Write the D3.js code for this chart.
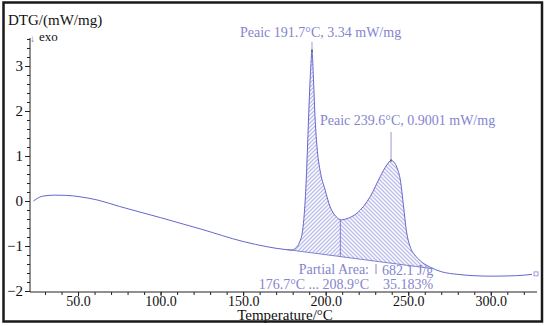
<!DOCTYPE html>
<html>
<head>
<meta charset="utf-8">
<script src="https://cdn.jsdelivr.net/npm/d3@7"></script>
<style>
  body { margin: 0; background: #fff; }
  svg { display: block; font-family: "Liberation Serif", "DejaVu Serif", serif; }
</style>
</head>
<body>
<div id="chart"></div>
<script>
// DTG curve (temperature in °C, DTG in mW/mg)
const temps = [23, 25, 27, 30, 36, 43, 50, 62, 75, 100, 125, 150, 165, 176, 179, 182, 184, 186, 187, 188, 189, 190, 191, 191.7,
  192.5, 193.5, 195, 196.5, 199.7, 202.7, 206.4, 209.5, 213, 219, 227, 233, 237, 239.6, 241.5, 243.2, 245.2, 247.2, 248.8,
  251.2, 254, 257.3, 263.3, 270, 280, 300, 315, 325];
const dtg = [0.0, 0.05, 0.09, 0.115, 0.13, 0.125, 0.1, 0.02, -0.12, -0.37, -0.63, -0.9, -1.02, -1.08, -1.09, -1.04, -0.93, -0.66, -0.3, 0.3,
  1.2, 2.2, 3.0, 3.34, 2.8, 1.9, 1.1, 0.7, 0.24, -0.13, -0.35, -0.42, -0.39, -0.27, 0.1, 0.54, 0.8, 0.9, 0.86, 0.74, 0.47, -0.13, -0.64,
  -1.02, -1.2, -1.33, -1.47, -1.57, -1.63, -1.67, -1.66, -1.63];

// integration baseline and partial split
const baseT = [176.7, 264];
const baseV = [-1.08, -1.5];
const splitT = 208.9;

const xTicks = [50, 100, 150, 200, 250, 300];
const yTicks = [-2, -1, 0, 1, 2, 3];

const peaks = [
  { t: 191.7, v: 3.34, label: "Peaic 191.7°C, 3.34 mW/mg", top: 42, lx: 240, ly: 37 },
  { t: 239.6, v: 0.9001, label: "Peaic 239.6°C, 0.9001 mW/mg", top: 132, lx: 320, ly: 125 }
];

const W = 546, H = 326;
const purple = "#6666cc";
const hatch = "#6e6ecc";
const textPurple = "#8484cf";

const svg = d3.select("#chart").append("svg").attr("width", W).attr("height", H);

const x = d3.scaleLinear().domain([20.9, 328]).range([30, 537]);
const y = d3.scaleLinear().domain([-2.022, 3.622]).range([292, 38]);

// hatch patterns, one per part of the area
const defs = svg.append("defs");
[["hatchA", "M-1,5 L5,-1"], ["hatchB", "M-1,-1 L5,5"]].forEach(([id, d]) => {
  const p = defs.append("pattern").attr("id", id).attr("patternUnits", "userSpaceOnUse")
    .attr("width", 4).attr("height", 4).attr("patternTransform", "translate(0.5,0.5)");
  [-4, 0, 4].forEach((dx) => {
    p.append("path").attr("d", d).attr("transform", `translate(${dx},0)`)
      .attr("stroke", hatch).attr("stroke-width", 0.9);
  });
});

defs.append("clipPath").attr("id", "clipA").append("rect")
  .attr("x", x(baseT[0])).attr("y", 0).attr("width", x(splitT) - x(baseT[0])).attr("height", H);
defs.append("clipPath").attr("id", "clipB").append("rect")
  .attr("x", x(splitT)).attr("y", 0).attr("width", x(baseT[1]) - x(splitT)).attr("height", H);

const data = temps.map((t, i) => ({ t: t, v: dtg[i] }));
const baseAt = d3.scaleLinear().domain(baseT).range(baseV);

const area = d3.area()
  .curve(d3.curveMonotoneX)
  .x((d) => x(d.t))
  .y0((d) => y(baseAt(d.t)))
  .y1((d) => y(d.v));

const inside = data.filter((d) => d.t >= 170 && d.t <= 270);
svg.append("path").datum(inside).attr("d", area)
  .attr("fill", "url(#hatchA)").attr("clip-path", "url(#clipA)");
svg.append("path").datum(inside).attr("d", area)
  .attr("fill", "url(#hatchB)").attr("clip-path", "url(#clipB)");

// baseline and split line
svg.append("line")
  .attr("x1", x(baseT[0])).attr("y1", y(baseV[0]))
  .attr("x2", x(baseT[1])).attr("y2", y(baseV[1]))
  .attr("stroke", purple).attr("stroke-width", 0.8);

const line = d3.line().curve(d3.curveMonotoneX).x((d) => x(d.t)).y((d) => y(d.v));

const curvePath = svg.append("path").datum(data).attr("d", line)
  .attr("fill", "none").attr("stroke", purple).attr("stroke-width", 1);

// y of the drawn curve at a given pixel x, found on the path itself
function curveYAt(px) {
  const node = curvePath.node();
  const len = node.getTotalLength();
  let lo = 0, hi = len;
  for (let k = 0; k < 40; k++) {
    const mid = (lo + hi) / 2;
    if (node.getPointAtLength(mid).x < px) lo = mid; else hi = mid;
  }
  return node.getPointAtLength(lo).y;
}
svg.append("line")
  .attr("x1", x(splitT)).attr("x2", x(splitT))
  .attr("y1", y(baseAt(splitT))).attr("y2", curveYAt(x(splitT)))
  .attr("stroke", purple).attr("stroke-width", 0.8);

// axes
svg.append("g").attr("transform", "translate(0,292)")
  .call(d3.axisBottom(x).tickValues(d3.range(30, 330, 10)).tickSize(3).tickFormat(""))
  .call((g) => g.select(".domain").remove())
  .selectAll("line").attr("stroke", "#222");
svg.append("g").attr("transform", "translate(0,292)")
  .call(d3.axisBottom(x).tickValues(xTicks).tickSize(4).tickFormat(d3.format(".1f")))
  .call((g) => g.select(".domain").remove())
  .call((g) => g.selectAll("line").attr("stroke", "#222"))
  .selectAll("text")
  .attr("font-family", "Liberation Serif").attr("font-size", 14).attr("fill", "#111")
  .attr("y", 4).attr("dy", "0.71em");

svg.append("g").attr("transform", "translate(30,0)")
  .call(d3.axisLeft(y).tickValues(d3.range(-2, 3.61, 0.2)).tickSize(3).tickFormat(""))
  .call((g) => g.select(".domain").remove())
  .selectAll("line").attr("stroke", "#222");
svg.append("g").attr("transform", "translate(30,0)")
  .call(d3.axisLeft(y).tickValues(yTicks).tickSize(5).tickFormat(d3.format("d")))
  .call((g) => g.select(".domain").remove())
  .call((g) => g.selectAll("line").attr("stroke", "#222"))
  .selectAll("text")
  .attr("font-family", "Liberation Serif").attr("font-size", 15).attr("fill", "#111").attr("x", -7);

svg.append("line").attr("x1", 30).attr("x2", 30).attr("y1", 38).attr("y2", 292)
  .attr("stroke", "#222").attr("stroke-width", 1);
svg.append("line").attr("x1", 30).attr("x2", 537).attr("y1", 292).attr("y2", 292)
  .attr("stroke", "#222").attr("stroke-width", 1);

// titles
svg.append("text").attr("x", 8).attr("y", 25).attr("font-size", 15).attr("fill", "#111")
  .text("DTG/(mW/mg)");
svg.append("text").attr("x", 30).attr("y", 42).attr("font-size", 10).attr("fill", "#777").text("↓");
svg.append("text").attr("x", 39).attr("y", 41).attr("font-size", 13).attr("fill", "#111").text("exo");
svg.append("text").attr("x", 285).attr("y", 320).attr("text-anchor", "middle")
  .attr("font-size", 15).attr("fill", "#111").text("Temperature/°C");

// peak annotations
peaks.forEach((p) => {
  svg.append("line").attr("x1", x(p.t)).attr("x2", x(p.t))
    .attr("y1", p.top).attr("y2", y(p.v))
    .attr("stroke", "#9a9ad8").attr("stroke-width", 1);
  svg.append("rect").attr("x", x(p.t) - 1).attr("y", y(p.v) - 1).attr("width", 2).attr("height", 2)
    .attr("fill", "#666");
  svg.append("text").attr("x", p.lx).attr("y", p.ly).attr("font-size", 14)
    .attr("fill", textPurple).text(p.label);
});

// partial area annotation
const note = svg.append("g").attr("font-size", 14).attr("fill", textPurple);
note.append("text").attr("x", 369).attr("y", 274).attr("text-anchor", "end").text("Partial Area:");
note.append("text").attr("x", 369).attr("y", 289).attr("text-anchor", "end").text("176.7°C ... 208.9°C");
note.append("text").attr("x", 382).attr("y", 275).text("682.1 J/g");
note.append("text").attr("x", 383).attr("y", 289).text("35.183%");
svg.append("line").attr("x1", 376).attr("x2", 376).attr("y1", 264).attr("y2", 274)
  .attr("stroke", textPurple).attr("stroke-width", 1);

// end marker
const last = data[data.length - 1];
svg.append("rect").attr("x", x(last.t) + 2).attr("y", y(last.v) - 2.5).attr("width", 4).attr("height", 4)
  .attr("fill", "none").attr("stroke", textPurple).attr("stroke-width", 0.8);

// frame
svg.append("rect").attr("x", 3.5).attr("y", 2.5).attr("width", 538.5).attr("height", 319)
  .attr("fill", "none").attr("stroke", "#1a1a1a").attr("stroke-width", 2.5);
</script>
</body>
</html>
